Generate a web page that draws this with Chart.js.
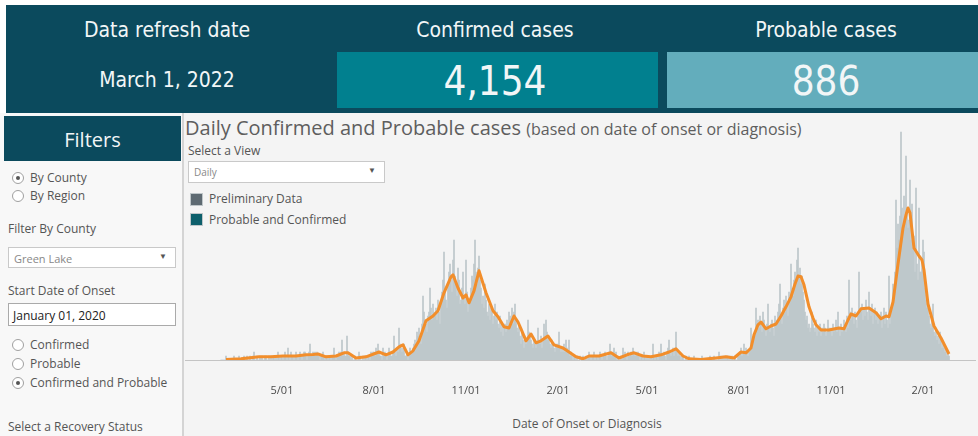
<!DOCTYPE html>
<html>
<head>
<meta charset="utf-8">
<script src="https://cdn.jsdelivr.net/npm/chart.js@4.4.0/dist/chart.umd.min.js"></script>
<style>
  body { margin: 0; width: 978px; height: 436px; overflow: hidden; background: #fff; position: relative; font-family: "Open Sans", sans-serif; }
  .abs { position: absolute; }
  .hdr { font-family: "Liberation Sans Narrow", "DejaVu Sans Condensed", sans-serif; color: #f2f6f7; text-align: center; }
  .txt { font-size: 12px; color: #555; white-space: nowrap; line-height: 14px; }
  .radio { width: 10px; height: 10px; border: 1px solid #a0a0a0; border-radius: 50%; background: #fff; }
  .radio.on::after { content: ""; position: absolute; left: 3px; top: 3px; width: 4px; height: 4px; border-radius: 50%; background: #555; }
  .drop { background: #fff; border: 1px solid #c9c9c9; box-sizing: border-box; }
  .drop span { position: absolute; left: 5px; top: 3px; font-size: 10px; color: #888; }
  .drop i { position: absolute; right: 8px; top: 2px; font-style: normal; font-size: 8px; color: #555; }
  .sq { width: 11px; height: 11px; border: 1px solid #bfc6c9; }
</style>
</head>
<body>
<!-- header band -->
<div class="abs" style="left:6px;top:5px;width:972px;height:108px;background:#0b4a5d;"></div>
<div class="abs" style="left:337px;top:52px;width:321px;height:56px;background:#01808f;"></div>
<div class="abs" style="left:667px;top:52px;width:311px;height:56px;background:#63adbc;"></div>
<div class="abs hdr" style="left:6px;top:18px;width:322px;font-size:21px;">Data refresh date</div>
<div class="abs hdr" style="left:337px;top:18px;width:316px;font-size:21px;">Confirmed cases</div>
<div class="abs hdr" style="left:667px;top:18px;width:318px;font-size:21px;">Probable cases</div>
<div class="abs hdr" style="left:6px;top:68px;width:322px;font-size:21px;">March 1, 2022</div>
<div class="abs hdr" style="left:337px;top:58px;width:316px;font-size:40px;">4,154</div>
<div class="abs hdr" style="left:667px;top:58px;width:318px;font-size:40px;">886</div>

<!-- filter panel -->
<div class="abs" style="left:0;top:113px;width:182px;height:323px;background:#f8f8f8;border-right:2px solid #d4d4d4;"></div>
<div class="abs" style="left:4px;top:116px;width:177px;height:45px;background:#0b4a5d;"></div>
<div class="abs hdr" style="left:4px;top:126px;width:177px;font-family:'Open Sans',sans-serif;font-size:20px;">Filters</div>
<div class="abs radio on" style="left:12px;top:172px;"></div>
<div class="abs txt" style="left:30px;top:171px;">By County</div>
<div class="abs radio" style="left:12px;top:190px;"></div>
<div class="abs txt" style="left:30px;top:189px;">By Region</div>
<div class="abs txt" style="left:8px;top:222px;">Filter By County</div>
<div class="abs drop" style="left:8px;top:247px;width:168px;height:21px;"><span style="font-size:11px;">Green Lake</span><i>&#9660;</i></div>
<div class="abs txt" style="left:8px;top:284px;">Start Date of Onset</div>
<div class="abs" style="left:8px;top:303px;width:168px;height:23px;background:#fff;border:1px solid #aaa;box-sizing:border-box;"><span class="abs" style="left:4px;top:3px;font-size:12px;color:#222;">January 01, 2020</span></div>
<div class="abs radio" style="left:12px;top:339px;"></div>
<div class="abs txt" style="left:30px;top:338px;">Confirmed</div>
<div class="abs radio" style="left:12px;top:358px;"></div>
<div class="abs txt" style="left:30px;top:357px;">Probable</div>
<div class="abs radio on" style="left:12px;top:377px;"></div>
<div class="abs txt" style="left:30px;top:376px;">Confirmed and Probable</div>
<div class="abs txt" style="left:8px;top:420px;">Select a Recovery Status</div>

<!-- chart panel -->
<div class="abs" style="left:184px;top:113px;width:794px;height:323px;background:#f4f4f4;"></div>
<div class="abs" style="left:185px;top:114px;white-space:nowrap;color:#5e5e5e;font-size:20px;line-height:28px;">Daily Confirmed and Probable cases <span style="font-size:16px;">(based on date of onset or diagnosis)</span></div>
<div class="abs txt" style="left:188px;top:144px;">Select a View</div>
<div class="abs drop" style="left:188px;top:161px;width:197px;height:22px;"><span>Daily</span><i>&#9660;</i></div>
<div class="abs sq" style="left:190px;top:193px;background:#5e6a72;"></div>
<div class="abs txt" style="left:209px;top:192px;">Preliminary Data</div>
<div class="abs sq" style="left:190px;top:213px;background:#0d5f6b;"></div>
<div class="abs txt" style="left:209px;top:213px;">Probable and Confirmed</div>
<div class="abs txt" style="left:487px;top:417px;width:200px;text-align:center;">Date of Onset or Diagnosis</div>

<canvas id="casesChart" class="abs" width="795" height="316" style="left:183px;top:120px;"></canvas>

<script>
// days counted from 2020-01-01 (day 0)
const firstDay = 60; // 2020-03-01

// daily confirmed + probable cases, one line per month
const dailyCases = [
  0,0,0,0,0,1,0, 0,0,0,0,0,0,1, 0,0,0,0,1,0,0, 0,0,1,0,0,1,0, 0,1,0,              // Mar 2020
  0,1,2,0,0,1,0, 0,1,0,1,0,0,1, 1,0,0,1,0,1,0, 1,1,0,1,0,2,1, 0,1,                // Apr
  1,0,1,2,1,0,3, 1,0,2,1,1,0,1, 2,1,0,1,2,1,0, 1,2,2,1,0,1,2, 4,1,1,              // May
  2,1,2,1,2,1,1, 0,1,1,2,1,0,1, 1,0,1,1,0,1,1, 3,1,0,1,1,2,1, 2,5,                // Jun
  1,2,1,1,6,2,1, 1,0,1,0,0,1,0, 0,0,2,1,0,0,1, 0,1,1,0,1,1,0, 2,1,2,              // Jul
  2,1,3,2,4,2,1, 1,0,3,1,2,1,0, 1,3,2,1,1,2,6, 2,1,3,2,8,4,3, 2,3,4,              // Aug
  1,1,2,0,1,3,2, 2,3,4,5,4,7,6, 8,6,4,9,16,12,10, 9,7,11,12,18,13,10, 14,12,      // Sep
  11,13,10,15,12,9,14, 17,20,27,18,15,13,19, 22,24,20,17,25,30,21, 19,16,23,20,14,15,18, 22,16,14, // Oct
  25,17,12,14,15,18,21, 20,24,30,22,19,23,26, 20,18,14,16,13,19,15, 12,11,14,10,13,12,9, 11,14,    // Nov
  10,12,9,8,11,7,9, 6,8,9,7,10,8,12, 11,10,13,9,12,14,10, 8,7,9,6,4,7,5, 3,6,4,   // Dec
  5,10,7,6,5,4,3, 5,4,3,4,8,5,4, 6,3,5,9,6,10,7, 5,6,4,3,5,4,3, 2,4,3,            // Jan 2021
  4,7,3,2,3,2,4, 2,5,3,2,5,1,2, 1,0,1,1,0,1,0, 0,1,0,0,1,0,0,                     // Feb
  1,0,1,2,1,0,1, 1,2,0,1,1,0,1, 2,1,0,1,1,2,1, 0,1,2,4,2,1,2, 3,1,2,              // Mar
  0,1,0,0,1,0,3, 1,2,1,0,2,1,1, 2,1,3,2,1,2,1, 2,1,0,1,1,0,2, 1,0,                // Apr
  1,0,1,0,1,0,4, 1,0,1,1,0,2,1, 4,1,1,2,1,0,2, 3,5,2,1,2,3,1, 3,7,2,              // May
  1,2,1,0,1,1,0, 0,1,0,0,1,0,0, 0,0,1,0,0,0,0, 0,0,0,1,0,0,0, 0,0,                // Jun
  0,0,1,0,0,0,1, 0,0,0,0,2,0,1, 0,1,0,1,0,1,1, 0,1,0,1,0,0,1, 0,0,1,              // Jul
  1,2,3,1,2,4,2, 3,2,1,2,3,8,3, 5,6,7,13,9,10,8, 11,9,7,12,10,8,6, 9,14,8,        // Aug
  7,9,10,8,6,11,9, 10,12,14,19,11,9,13, 15,12,16,14,11,17,15, 24,18,16,20,22,19,25, 28,21,       // Sep
  23,19,21,17,15,12,10, 11,8,9,7,8,12,9, 8,7,10,6,8,7,9, 6,8,7,9,8,6,7, 10,8,7,   // Oct
  8,6,9,7,8,10,7, 12,8,6,9,7,8,10, 9,7,11,8,20,12,10, 13,11,9,12,10,8,11, 22,13,  // Nov
  12,14,10,13,11,15,12, 10,17,13,11,14,9,12, 13,10,12,9,11,10,12, 8,11,13,9,12,10,8, 21,9,12,     // Dec
  14,19,16,22,40,28,34, 30,36,57,38,32,41,35, 51,37,33,35,45,30,39, 28,31,22,43,24,20,38, 22,22,25, // Jan 2022
  30,27,18,15,13,15,11, 9,8,10,14,7,6,8, 5,6,4,7,5,3,4, 3,2,3,1,2,1               // Feb
];

// moving average line, read at the points below
const avgDays = [65,80,98,110,122,135,145,152,157,165,175,183,187,195,205,218,225,232,238,242,
  247,252,258,265,272,277,283,290,292,297,302,305,308,313,318,325,332,337,343,348,353,357,360,365,
  370,375,380,387,393,402,408,415,422,428,438,450,458,466,473,482,490,500,508,515,522,528,540,547,
  555,565,573,580,585,590,593,597,600,605,610,615,620,625,630,634,637,640,643,648,652,655,660,668,
  674,678,683,687,690,695,700,708,715,720,725,728,732,737,742,745,747,749,753,758,761,763,767,773,
  780,784,788];
const avgCases = [0.1,0.3,0.8,0.8,1.0,1.0,1.3,1.4,1.5,0.8,1.0,1.8,1.8,0.5,0.8,2.0,1.3,2.0,3.3,3.8,
  1.3,2.3,4.8,9.8,11.0,12.3,16.8,20.8,21.3,18.0,15.5,16.3,14.3,17.3,22.3,16.8,12.3,10.8,8.3,8.0,11.0,9.5,7.8,4.8,
  6.5,4.3,4.8,6.0,3.8,3.0,2.0,0.8,0.3,1.0,1.0,1.8,0.5,1.3,1.8,1.0,0.8,1.3,2.0,2.8,1.0,0.3,0.1,0.3,
  0.5,0.8,0.5,2.0,1.8,3.0,6.3,8.8,9.5,7.8,8.5,9.0,11.0,13.3,15.8,19.0,21.0,20.8,18.8,13.3,10.5,8.8,7.5,7.5,
  7.8,8.0,7.8,10.0,11.5,11.0,12.8,13.0,11.8,10.3,11.0,10.8,14.5,24.0,33.0,36.3,38.0,36.8,28.0,26.0,25.0,22.5,14.0,8.5,
  5.5,3.5,1.5];

const tickDays = [121, 213, 305, 397, 486, 578, 670, 762];
const tickLabels = ['5/01', '8/01', '11/01', '2/01', '5/01', '8/01', '11/01', '2/01'];

document.addEventListener("DOMContentLoaded", function() {
    var ctx = document.getElementById('casesChart').getContext('2d');
    var config = {
        type: 'bar',
        data: {
            datasets: [{
                type: 'line',
                label: '7 day average',
                data: avgDays.map((d, i) => ({x: d, y: avgCases[i]})),
                borderColor: '#f28e2b',
                borderWidth: 3,
                pointRadius: 0,
                tension: 0,
                borderJoinStyle: 'round',
                order: 0
            }, {
                label: 'Probable and Confirmed',
                data: dailyCases.map((v, i) => ({x: firstDay + i, y: v})),
                backgroundColor: '#bdc7ca',
                barPercentage: 1,
                categoryPercentage: 1,
                order: 1
            }]
        },
        options: {
            responsive: false,
            animation: false,
            layout: { padding: { left: 2, right: 3, top: 0, bottom: 0 } },
            plugins: { legend: { display: false }, tooltip: { enabled: false } },
            scales: {
                x: {
                    type: 'linear',
                    min: 24,
                    max: 814,
                    offset: false,
                    grid: { display: false, drawTicks: false },
                    border: { display: true, color: '#c4c4c4', dash: [2, 2] },
                    afterBuildTicks: axis => { axis.ticks = tickDays.map(v => ({value: v})); },
                    afterFit: axis => { axis.height = 76; },
                    ticks: {
                        autoSkip: false,
                        maxRotation: 0,
                        padding: 24,
                        color: '#4a4a4a',
                        font: { family: 'Open Sans', size: 11 },
                        callback: v => tickLabels[tickDays.indexOf(v)]
                    }
                },
                y: { display: false, min: 0, max: 60 }
            }
        }
    };
    var casesChart = new Chart(ctx, config);
});
</script>
</body>
</html>
